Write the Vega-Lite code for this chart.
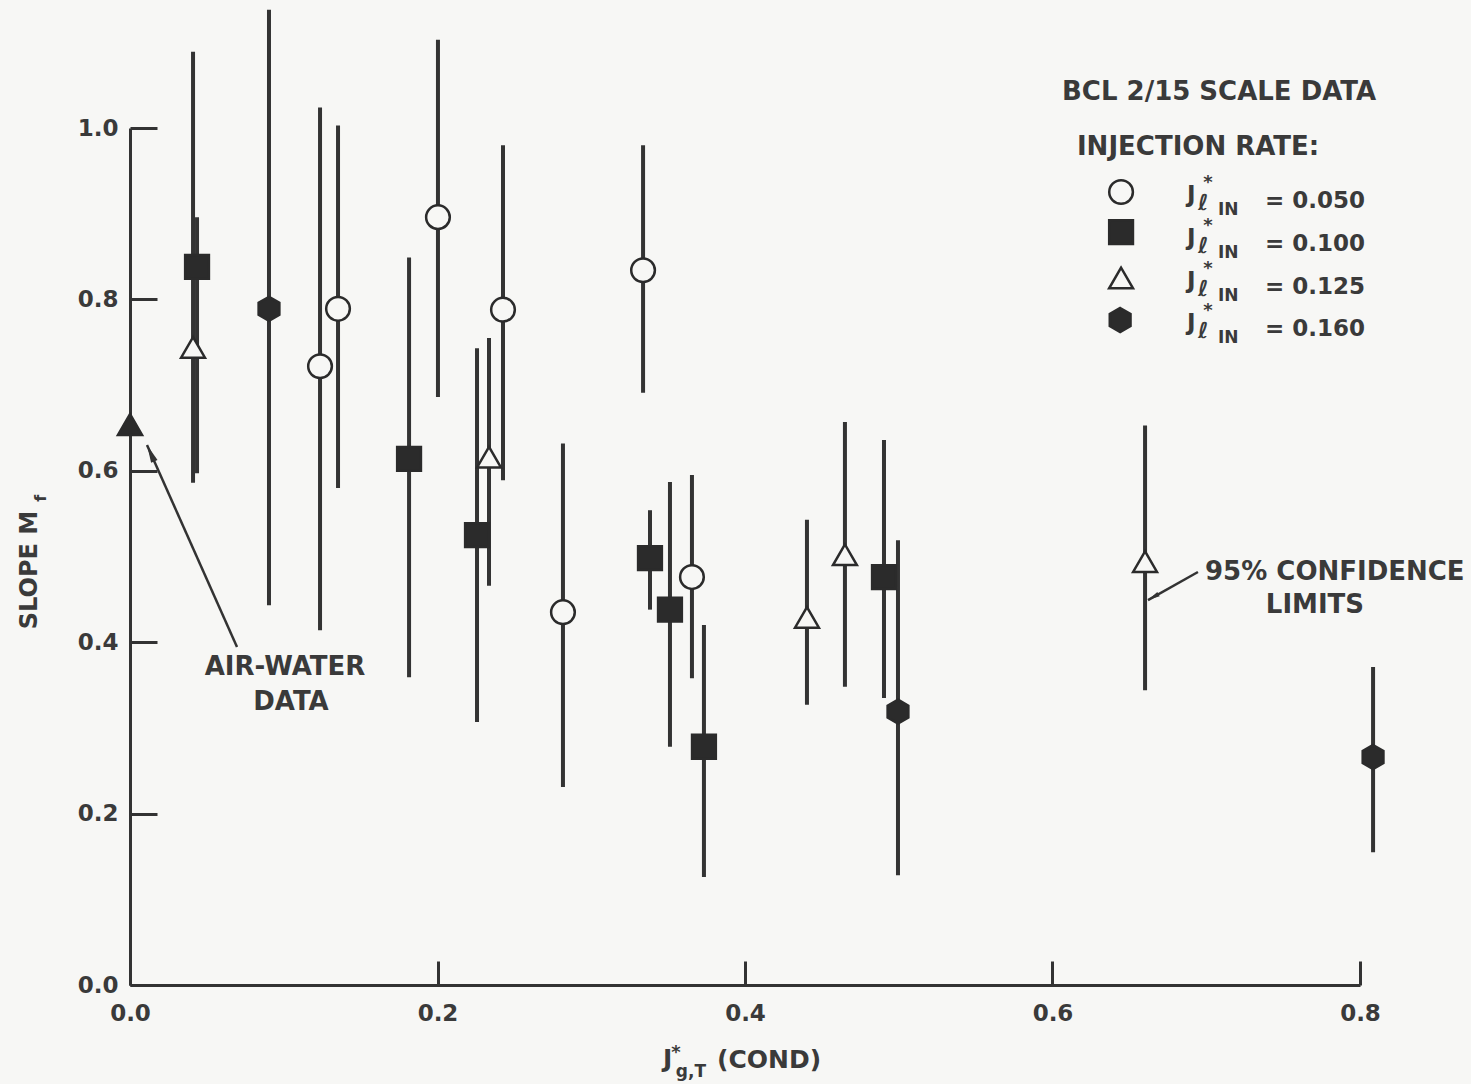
{
  "$schema": "https://vega.github.io/schema/vega-lite/v6.json",
  "width": 1230,
  "height": 857,
  "autosize": {"type": "none"},
  "padding": {"left": 130, "top": 128, "right": 111, "bottom": 99},
  "background": "#f7f7f5",
  "config": {"view": {"stroke": null}},
  "datasets": {
    "pts": [
      {"x": 0.0, "y": 0.654, "series": "air"},
      {"x": 0.041, "y": 0.744, "lo": 0.586, "hi": 1.089, "series": "0.125"},
      {"x": 0.0436, "y": 0.838, "lo": 0.597, "hi": 0.896, "series": "0.100"},
      {"x": 0.0904, "y": 0.789, "lo": 0.443, "hi": 1.138, "series": "0.160"},
      {"x": 0.1236, "y": 0.722, "lo": 0.414, "hi": 1.024, "series": "0.050"},
      {"x": 0.1353, "y": 0.789, "lo": 0.58, "hi": 1.003, "series": "0.050"},
      {"x": 0.2003, "y": 0.896, "lo": 0.686, "hi": 1.103, "series": "0.050"},
      {"x": 0.1815, "y": 0.614, "lo": 0.359, "hi": 0.849, "series": "0.100"},
      {"x": 0.2257, "y": 0.525, "lo": 0.307, "hi": 0.743, "series": "0.100"},
      {"x": 0.2335, "y": 0.616, "lo": 0.466, "hi": 0.755, "series": "0.125"},
      {"x": 0.2426, "y": 0.788, "lo": 0.589, "hi": 0.98, "series": "0.050"},
      {"x": 0.2816, "y": 0.435, "lo": 0.231, "hi": 0.632, "series": "0.050"},
      {"x": 0.3337, "y": 0.834, "lo": 0.691, "hi": 0.98, "series": "0.050"},
      {"x": 0.3382, "y": 0.498, "lo": 0.438, "hi": 0.554, "series": "0.100"},
      {"x": 0.3512, "y": 0.438, "lo": 0.278, "hi": 0.587, "series": "0.100"},
      {"x": 0.3655, "y": 0.476, "lo": 0.358, "hi": 0.595, "series": "0.050"},
      {"x": 0.3733, "y": 0.278, "lo": 0.126, "hi": 0.42, "series": "0.100"},
      {"x": 0.4403, "y": 0.429, "lo": 0.327, "hi": 0.543, "series": "0.125"},
      {"x": 0.465, "y": 0.502, "lo": 0.348, "hi": 0.657, "series": "0.125"},
      {"x": 0.4904, "y": 0.476, "lo": 0.335, "hi": 0.636, "series": "0.100"},
      {"x": 0.4995, "y": 0.319, "lo": 0.128, "hi": 0.519, "series": "0.160"},
      {"x": 0.6602, "y": 0.494, "lo": 0.344, "hi": 0.653, "series": "0.125"},
      {"x": 0.8085, "y": 0.266, "lo": 0.155, "hi": 0.371, "series": "0.160"}
    ],
    "leg": [
      {"x": 0.6446, "y": 0.9253, "series": "0.050"},
      {"x": 0.6446, "y": 0.8786, "series": "0.100"},
      {"x": 0.6446, "y": 0.825, "series": "0.125"},
      {"x": 0.644, "y": 0.776, "series": "0.160"}
    ],
    "arrows": [
      {"x": 0.0696, "y": 0.3944, "x2": 0.01106, "y2": 0.6301, "id": "air"},
      {"x": 0.6946, "y": 0.4819, "x2": 0.6621, "y2": 0.4492, "id": "conf"}
    ],
    "txt": [
      {"x": 0.6062, "y": 1.0327, "text": "BCL 2/15 SCALE DATA", "g": "bl"},
      {"x": 0.6159, "y": 0.9685, "text": "INJECTION RATE:", "g": "bl"},
      {"x": 0.6992, "y": 0.4726, "text": "95% CONFIDENCE", "g": "bl"},
      {"x": 0.1008, "y": 0.3617, "text": "AIR-WATER", "g": "bc"},
      {"x": 0.1047, "y": 0.3209, "text": "DATA", "g": "bc"},
      {"x": 0.7707, "y": 0.4341, "text": "LIMITS", "g": "bc"},
      {"x": 0.6875, "y": 0.9137, "text": "J", "g": "ml"},
      {"x": 0.6875, "y": 0.8635, "text": "J", "g": "ml"},
      {"x": 0.6875, "y": 0.8133, "text": "J", "g": "ml"},
      {"x": 0.6875, "y": 0.7643, "text": "J", "g": "ml"},
      {"x": 0.7382, "y": 0.9066, "text": "= 0.050", "g": "ml"},
      {"x": 0.7382, "y": 0.8565, "text": "= 0.100", "g": "ml"},
      {"x": 0.7382, "y": 0.8063, "text": "= 0.125", "g": "ml"},
      {"x": 0.7382, "y": 0.7573, "text": "= 0.160", "g": "ml"},
      {"x": 0.6946, "y": 0.9043, "text": "ℓ", "g": "ell"},
      {"x": 0.6946, "y": 0.8541, "text": "ℓ", "g": "ell"},
      {"x": 0.6946, "y": 0.804, "text": "ℓ", "g": "ell"},
      {"x": 0.6946, "y": 0.7549, "text": "ℓ", "g": "ell"},
      {"x": 0.7076, "y": 0.8985, "text": "IN", "g": "sl"},
      {"x": 0.7076, "y": 0.8483, "text": "IN", "g": "sl"},
      {"x": 0.7076, "y": 0.7982, "text": "IN", "g": "sl"},
      {"x": 0.7076, "y": 0.7491, "text": "IN", "g": "sl"},
      {"x": 0.7011, "y": 0.9302, "text": "*", "g": "st"},
      {"x": 0.7011, "y": 0.88, "text": "*", "g": "st"},
      {"x": 0.7011, "y": 0.8298, "text": "*", "g": "st"},
      {"x": 0.7011, "y": 0.7808, "text": "*", "g": "st"},
      {"x": 0.3467, "y": -0.0957, "text": "J", "g": "xt"},
      {"x": 0.3818, "y": -0.0968, "text": "(COND)", "g": "xt"},
      {"x": 0.355, "y": -0.1073, "text": "g,T", "g": "sl"},
      {"x": 0.3551, "y": -0.0847, "text": "*", "g": "st"},
      {"x": -0.0605, "y": 0.4842, "text": "SLOPE M", "g": "rot"},
      {"x": -0.0545, "y": 0.568, "text": "f", "g": "rsub"}
    ]
  },
  "layer": [
    {
      "data": {"name": "pts"},
      "transform": [{"filter": "isValid(datum.lo)"}],
      "mark": {"type": "rule", "color": "#333333", "strokeWidth": 4},
      "encoding": {
        "x": {"field": "x", "type": "quantitative",
          "scale": {"domain": [0, 0.8], "nice": false, "zero": false},
          "axis": {"values": [0, 0.2, 0.4, 0.6, 0.8], "format": ".1f", "title": null, "grid": false,
            "domainColor": "#333333", "domainWidth": 3, "tickColor": "#333333", "tickWidth": 3, "tickSize": -24,
            "labelPadding": 41, "labelFont": "DejaVu Sans", "labelFontWeight": "bold", "labelFontSize": 23,
            "labelColor": "#3a3a3a", "labelFlush": false}},
        "y": {"field": "lo", "type": "quantitative",
          "scale": {"domain": [0, 1], "nice": false, "zero": false},
          "axis": {"values": [0, 0.2, 0.4, 0.6, 0.8, 1.0], "format": ".1f", "title": null, "grid": false,
            "domainColor": "#333333", "domainWidth": 3, "tickColor": "#333333", "tickWidth": 3, "tickSize": -27,
            "labelPadding": 39, "labelFont": "DejaVu Sans", "labelFontWeight": "bold", "labelFontSize": 23,
            "labelColor": "#3a3a3a", "labelFlush": false}},
        "y2": {"field": "hi"}
      }
    },
    {
      "data": {"name": "arrows"},
      "mark": {"type": "rule", "color": "#333333", "strokeWidth": 2.5},
      "encoding": {
        "x": {"field": "x", "type": "quantitative", "axis": {"title": null}},
        "y": {"field": "y", "type": "quantitative", "axis": {"title": null}},
        "x2": {"field": "x2"},
        "y2": {"field": "y2"}
      }
    },
    {
      "data": {"name": "arrows"},
      "transform": [{"filter": "datum.id === 'air'"}],
      "mark": {"type": "point", "shape": "M0,0L0.35,1.8L-0.35,1.8Z", "filled": true, "color": "#333333", "opacity": 1, "size": 400, "angle": 336},
      "encoding": {
        "x": {"field": "x2", "type": "quantitative", "axis": {"title": null}},
        "y": {"field": "y2", "type": "quantitative", "axis": {"title": null}}
      }
    },
    {
      "data": {"name": "arrows"},
      "transform": [{"filter": "datum.id === 'conf'"}],
      "mark": {"type": "point", "shape": "M0,0L0.35,1.8L-0.35,1.8Z", "filled": true, "color": "#333333", "opacity": 1, "size": 180, "angle": 240.7},
      "encoding": {
        "x": {"field": "x2", "type": "quantitative", "axis": {"title": null}},
        "y": {"field": "y2", "type": "quantitative", "axis": {"title": null}}
      }
    },
    {
      "data": {"name": "pts"},
      "mark": {"type": "point", "filled": true, "stroke": "#2b2b2b", "strokeWidth": 2.5, "opacity": 1},
      "encoding": {
        "x": {"field": "x", "type": "quantitative", "axis": {"title": null}},
        "y": {"field": "y", "type": "quantitative", "axis": {"title": null}},
        "shape": {"field": "series", "type": "nominal", "legend": null,
          "scale": {"domain": ["0.050", "0.100", "0.125", "0.160", "air"],
            "range": ["circle", "square", "triangle-up", "M0,-1L0.866,-0.5L0.866,0.5L0,1L-0.866,0.5L-0.866,-0.5Z", "triangle-up"]}},
        "fill": {"field": "series", "type": "nominal", "legend": null,
          "scale": {"domain": ["0.050", "0.100", "0.125", "0.160", "air"],
            "range": ["#f7f7f5", "#2b2b2b", "#f7f7f5", "#2b2b2b", "#2b2b2b"]}},
        "size": {"field": "series", "type": "nominal", "legend": null,
          "scale": {"domain": ["0.050", "0.100", "0.125", "0.160", "air"],
            "range": [560, 580, 620, 650, 1650]}}
      }
    },
    {
      "data": {"name": "leg"},
      "mark": {"type": "point", "filled": true, "stroke": "#2b2b2b", "strokeWidth": 2.5, "opacity": 1},
      "encoding": {
        "x": {"field": "x", "type": "quantitative", "axis": {"title": null}},
        "y": {"field": "y", "type": "quantitative", "axis": {"title": null}},
        "shape": {"field": "series", "type": "nominal", "legend": null},
        "fill": {"field": "series", "type": "nominal", "legend": null},
        "size": {"field": "series", "type": "nominal", "legend": null}
      }
    },
    {
      "data": {"name": "txt"},
      "transform": [{"filter": "datum.g === 'bl'"}],
      "mark": {"type": "text", "align": "left", "baseline": "alphabetic", "font": "DejaVu Sans", "fontWeight": "bold", "fontSize": 26, "color": "#3a3a3a"},
      "encoding": {
        "x": {"field": "x", "type": "quantitative", "axis": {"title": null}},
        "y": {"field": "y", "type": "quantitative", "axis": {"title": null}},
        "text": {"field": "text"}
      }
    },
    {
      "data": {"name": "txt"},
      "transform": [{"filter": "datum.g === 'bc'"}],
      "mark": {"type": "text", "align": "center", "baseline": "alphabetic", "font": "DejaVu Sans", "fontWeight": "bold", "fontSize": 26, "color": "#3a3a3a"},
      "encoding": {
        "x": {"field": "x", "type": "quantitative", "axis": {"title": null}},
        "y": {"field": "y", "type": "quantitative", "axis": {"title": null}},
        "text": {"field": "text"}
      }
    },
    {
      "data": {"name": "txt"},
      "transform": [{"filter": "datum.g === 'ml'"}],
      "mark": {"type": "text", "align": "left", "baseline": "alphabetic", "font": "DejaVu Sans", "fontWeight": "bold", "fontSize": 23, "color": "#3a3a3a"},
      "encoding": {
        "x": {"field": "x", "type": "quantitative", "axis": {"title": null}},
        "y": {"field": "y", "type": "quantitative", "axis": {"title": null}},
        "text": {"field": "text"}
      }
    },
    {
      "data": {"name": "txt"},
      "transform": [{"filter": "datum.g === 'xt'"}],
      "mark": {"type": "text", "align": "left", "baseline": "alphabetic", "font": "DejaVu Sans", "fontWeight": "bold", "fontSize": 25, "color": "#3a3a3a"},
      "encoding": {
        "x": {"field": "x", "type": "quantitative", "axis": {"title": null}},
        "y": {"field": "y", "type": "quantitative", "axis": {"title": null}},
        "text": {"field": "text"}
      }
    },
    {
      "data": {"name": "txt"},
      "transform": [{"filter": "datum.g === 'sl'"}],
      "mark": {"type": "text", "align": "left", "baseline": "alphabetic", "font": "DejaVu Sans", "fontWeight": "bold", "fontSize": 17, "color": "#3a3a3a"},
      "encoding": {
        "x": {"field": "x", "type": "quantitative", "axis": {"title": null}},
        "y": {"field": "y", "type": "quantitative", "axis": {"title": null}},
        "text": {"field": "text"}
      }
    },
    {
      "data": {"name": "txt"},
      "transform": [{"filter": "datum.g === 'ell'"}],
      "mark": {"type": "text", "align": "left", "baseline": "alphabetic", "font": "DejaVu Sans", "fontWeight": "bold", "fontSize": 22, "color": "#3a3a3a"},
      "encoding": {
        "x": {"field": "x", "type": "quantitative", "axis": {"title": null}},
        "y": {"field": "y", "type": "quantitative", "axis": {"title": null}},
        "text": {"field": "text"}
      }
    },
    {
      "data": {"name": "txt"},
      "transform": [{"filter": "datum.g === 'st'"}],
      "mark": {"type": "text", "align": "center", "baseline": "alphabetic", "font": "DejaVu Sans", "fontWeight": "bold", "fontSize": 18, "color": "#3a3a3a"},
      "encoding": {
        "x": {"field": "x", "type": "quantitative", "axis": {"title": null}},
        "y": {"field": "y", "type": "quantitative", "axis": {"title": null}},
        "text": {"field": "text"}
      }
    },
    {
      "data": {"name": "txt"},
      "transform": [{"filter": "datum.g === 'rot'"}],
      "mark": {"type": "text", "align": "center", "baseline": "alphabetic", "angle": 270, "font": "DejaVu Sans", "fontWeight": "bold", "fontSize": 24, "color": "#3a3a3a"},
      "encoding": {
        "x": {"field": "x", "type": "quantitative", "axis": {"title": null}},
        "y": {"field": "y", "type": "quantitative", "axis": {"title": null}},
        "text": {"field": "text"}
      }
    },
    {
      "data": {"name": "txt"},
      "transform": [{"filter": "datum.g === 'rsub'"}],
      "mark": {"type": "text", "align": "center", "baseline": "alphabetic", "angle": 270, "font": "DejaVu Sans", "fontWeight": "bold", "fontSize": 16, "color": "#3a3a3a"},
      "encoding": {
        "x": {"field": "x", "type": "quantitative", "axis": {"title": null}},
        "y": {"field": "y", "type": "quantitative", "axis": {"title": null}},
        "text": {"field": "text"}
      }
    }
  ]
}
